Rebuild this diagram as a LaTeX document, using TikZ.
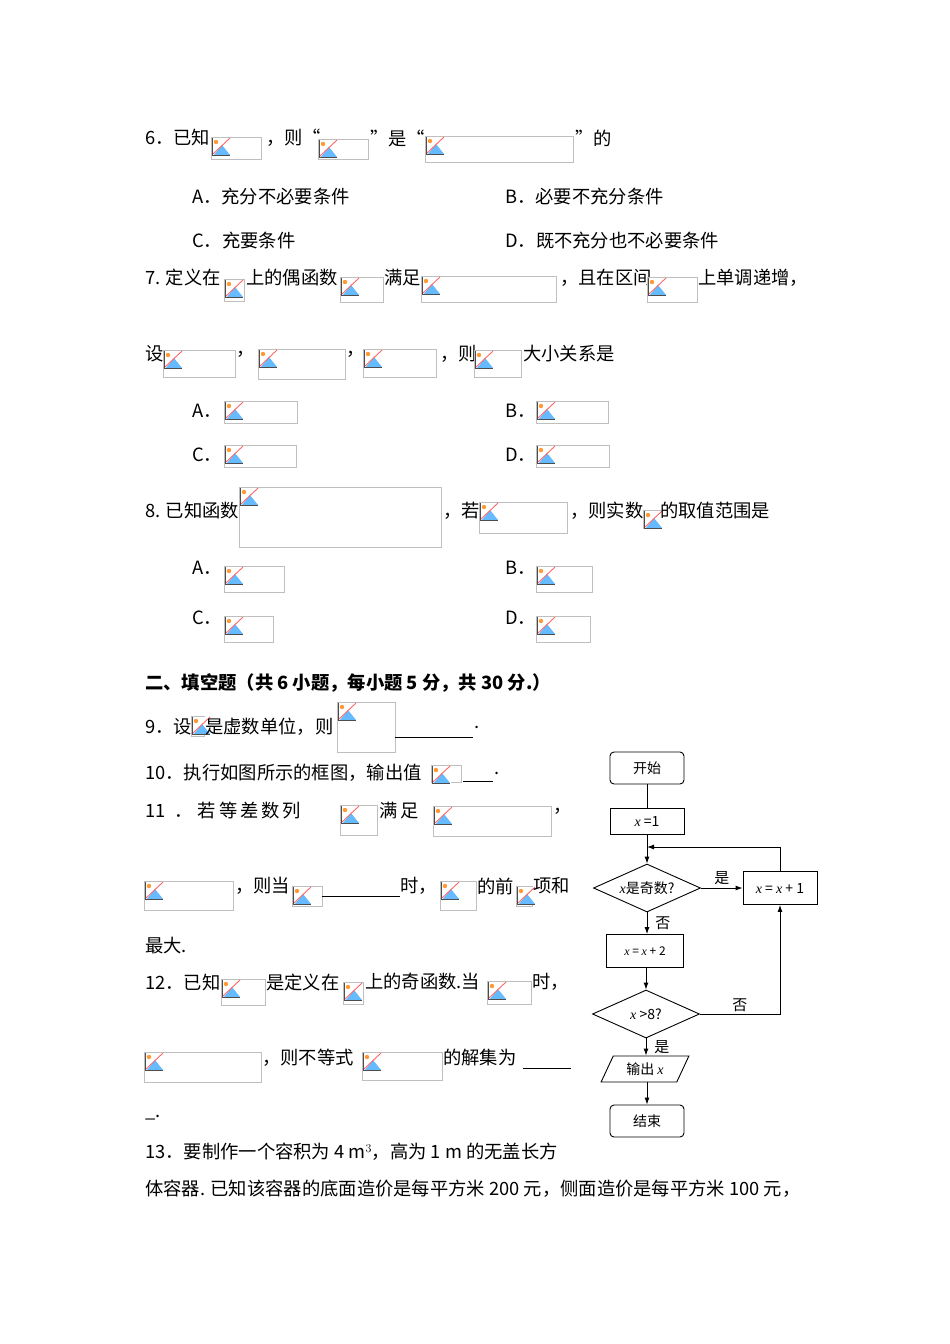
\documentclass[tikz,border=0pt]{standalone}
\usepackage{fontspec}
\setmainfont{Noto Sans CJK SC}
\newfontfamily\lat{Liberation Serif}
\newcommand\vx{{\lat\itshape x}}
\usetikzlibrary{shapes.geometric,arrows.meta}
\newcounter{tc}\newcounter{pc}
\newcommand\T[3]{\stepcounter{tc}\node[txt] (t\arabic{tc}) at (#1,#2) {#3};}
\newcommand\PH[4]{\stepcounter{pc}%
 \node[phbox,minimum width=#3pt,minimum height=#4pt] (p\arabic{pc}) at (#1+#3/2,#2+#4/2) {};
 \begin{scope}[shift={(#1,#2)}]
  \fill[white] (0.5,0.5) rectangle (19.5,18.5);
  \fill[blue!45!cyan!60] (3,18) -- (11,8) -- (19,18) -- cycle;
  \fill[orange!80] (5,5) circle (2.2);
  \draw[red!60,line width=0.9pt] (1,18) -- (19,1);
  \draw[black!70,line width=0.8pt] (1,1) -- (1,18) -- (19,18);
 \end{scope}}
\newcommand\UL[3]{\stepcounter{pc}\coordinate (u\arabic{pc}) at (#1,#3); \draw[line width=0.7pt] (u\arabic{pc}) -- ++(#2-#1,0);}
\tikzset{
 txt/.style={anchor=west,inner sep=0pt,font=\fontsize{18.3}{20}\selectfont},
 phbox/.style={draw=black!25,line width=0.7pt,inner sep=0pt},
 fc/.style={draw,line width=0.9pt,minimum width=74pt,font=\fontsize{14}{16}\selectfont},
 rbox/.style={fc,rounded corners=4pt,minimum height=32pt},
 sbox/.style={fc,minimum height=26pt},
 dia/.style={draw,line width=0.9pt,diamond,aspect=2.2,minimum width=107pt,minimum height=48pt,inner sep=0pt,font=\fontsize{14}{16}\selectfont},
 arr/.style={line width=0.9pt,-{Latex[length=7pt,width=5pt]}},
 lab/.style={font=\fontsize{15}{16}\selectfont,inner sep=0pt}
}
\begin{document}
\begin{tikzpicture}[x=1pt,y=-1pt]
\useasboundingbox[fill=white] (0,0) rectangle (950,1344);
% Q6
\T{145}{138}{6．已知}\PH{211}{137}{50}{22}\T{266}{138}{，则“}\PH{318}{139}{50}{20}\T{370}{138}{”是“}\PH{425}{136}{148}{26}\T{575}{138}{”的}
\T{192}{197}{A．充分不必要条件}\T{505}{197}{B．必要不充分条件}
\T{192}{241}{C．充要条件}\T{505}{241}{D．既不充分也不必要条件}
% Q7
\T{145}{278}{7. 定义在}\PH{224}{279}{20}{22}\T{246}{278}{上的偶函数}\PH{340}{277}{43}{25}\T{384}{278}{满足}\PH{421}{276}{135}{26}\T{560}{278}{，且在区间}\PH{647}{277}{50}{25}\T{698}{278}{上单调递增，}
\T{145}{354}{设}\PH{163}{350}{72}{27}\T{236}{354}{，}\PH{258}{349}{87}{30}\T{346}{354}{，}\PH{363}{349}{73}{28}\T{440}{354}{，则}\PH{474}{350}{47}{27}\T{523}{354}{大小关系是}
\T{192}{411}{A．}\PH{224}{401}{73}{22}\T{505}{411}{B．}\PH{536}{401}{72}{22}
\T{192}{455}{C．}\PH{224}{445}{72}{22}\T{505}{455}{D．}\PH{536}{445}{73}{22}
% Q8
\T{145}{511}{8. 已知函数}\PH{239}{487}{202}{60}\T{443}{511}{，若}\PH{479}{502}{88}{31}\T{570}{511}{，则实数}\PH{643}{510}{17}{18}\T{660}{511}{的取值范围是}
\T{192}{568}{A．}\PH{224}{566}{60}{26}\T{505}{568}{B．}\PH{536}{566}{56}{26}
\T{192}{618}{C．}\PH{224}{616}{49}{26}\T{505}{618}{D．}\PH{536}{616}{54}{26}
% section
\T{145}{683}{\bfseries 二、填空题（共 6 小题，每小题 5 分，共 30 分.）}
% Q9
\T{145}{727}{9．设}\PH{191}{716}{13}{20}\T{205}{727}{是虚数单位，则}\PH{337}{702}{58}{50}\UL{395}{473}{737}\T{474}{727}{.}
% Q10
\T{145}{773}{10．执行如图所示的框图，输出值}\PH{431}{765}{30}{17}\UL{463}{493}{781}\T{494}{773}{.}
% Q11
\T{145}{811}{11\hspace{9pt}．\hspace{5pt}若\hspace{3pt}等\hspace{3pt}差\hspace{3pt}数\hspace{3pt}列}\PH{340}{805}{37}{30}\T{379}{811}{满\hspace{3pt}足}\PH{433}{806}{118}{30}\T{553}{811}{，}
\PH{144}{881}{89}{29}\T{235}{886}{，则当}\PH{292}{886}{30}{20}\UL{322}{400}{896}\T{400}{886}{时，}\PH{440}{881}{36}{29}\T{477}{886}{的前}\PH{516}{886}{16}{20}\T{533}{886}{项和}
\T{145}{946}{最大.}
% Q12
\T{145}{982}{12．已知}\PH{221}{979}{44}{26}\T{266}{982}{是定义在}\PH{343}{982}{20}{22}\T{365}{982}{上的奇函数.当}\PH{487}{981}{44}{23}\T{532}{982}{时，}
\PH{144}{1052}{117}{30}\T{262}{1058}{，则不等式}\PH{362}{1052}{80}{28}\T{443}{1058}{的解集为}\UL{523}{571}{1068}
\T{145}{1118}{\_.}
% Q13
\T{145}{1152}{13．要制作一个容积为 4 m$^3$，高为 1 m 的无盖长方}
\T{145}{1189}{体容器. 已知该容器的底面造价是每平方米 200 元，侧面造价是每平方米 100 元，}
% flowchart
\node[rbox] (st) at (647,768) {开始};
\node[sbox] (x1) at (647,821) {\vx{} =1};
\node[dia] (d1) at (647,888) {\vx{}是奇数?};
\node[fc,minimum height=33pt] (inc) at (780,888) {\vx{} = \vx{} + 1};
\node[sbox,minimum width=77pt,minimum height=33pt] (x2) at (645,951) {\fontsize{12}{14}\selectfont \vx{} = \vx{} + 2};
\node[dia] (d2) at (646,1014) {\vx{} >8?};
\node[draw,line width=0.9pt,trapezium,trapezium left angle=65,trapezium right angle=115,minimum width=70pt,minimum height=26pt,inner sep=2pt,font=\fontsize{14}{16}\selectfont] (out) at (645,1069) {输出 \vx};
\node[rbox] (en) at (647,1121) {结束};
\coordinate (j) at (647,847);
\draw[line width=0.9pt] (st) -- (x1);
\draw[arr] (x1) -- (d1);
\draw[arr] (inc.north) |- (j);
\draw[arr] (d1) -- node[lab,above,pos=0.5,yshift=3pt] (ys1) {是} (inc);
\draw[arr] (d1) -- node[lab,right,xshift=8pt] (no1) {否} (x2.north -| d1);
\draw[arr] (x2.south -| d2) -- (d2);
\draw[arr] (d2.east) -| node[lab,above,pos=0.25,yshift=2pt] (no2) {否} (inc.south);
\draw[arr] (d2) -- node[lab,right,xshift=8pt] (ys2) {是} (out.north -| d2);
\draw[arr] (out.south -| en) -- (en);
\end{tikzpicture}
\end{document}
